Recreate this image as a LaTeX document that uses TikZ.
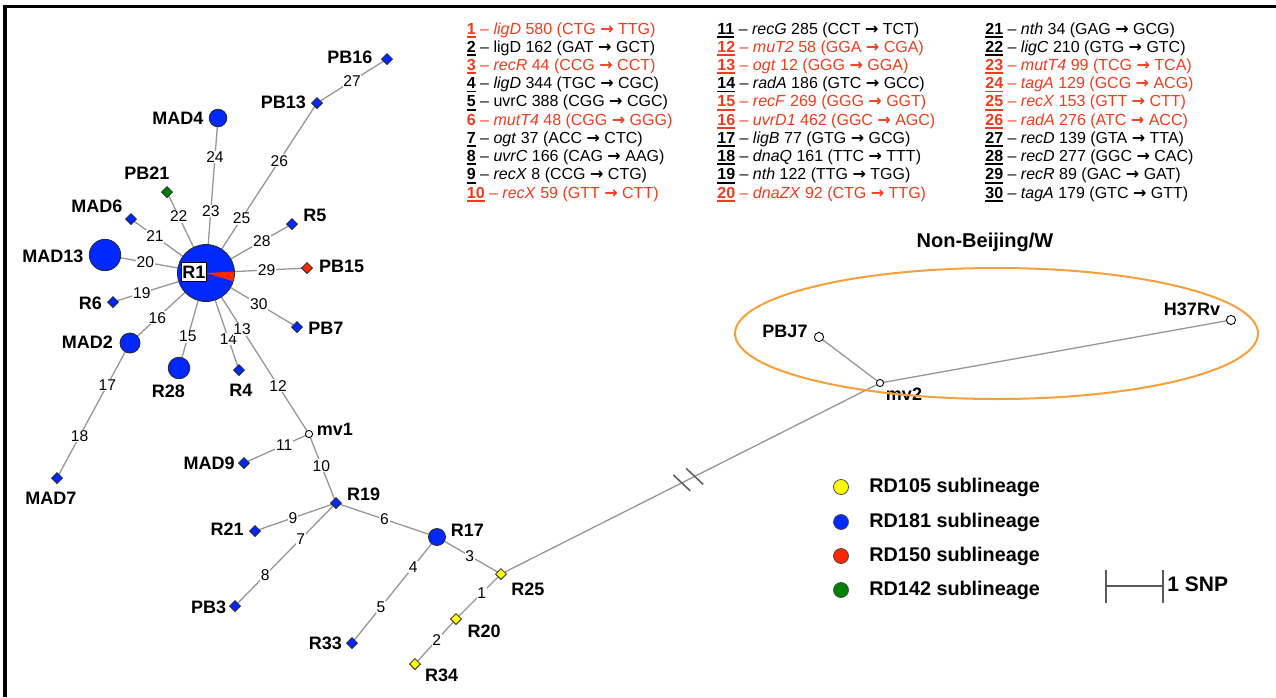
\documentclass[tikz,border=0pt]{standalone}
\usepackage{fontspec}
\setmainfont{Liberation Sans}
\newfontfamily\arrowfont{DejaVu Sans}
\usepackage{xcolor}
\usepackage{tikz}
\usetikzlibrary{shapes, calc}
\pgfdeclarelayer{background}
\pgfsetlayers{background,main}

\definecolor{hapblue}{RGB}{0,40,255}
\definecolor{hapyellow}{RGB}{255,255,0}
\definecolor{hapred}{RGB}{255,40,0}
\definecolor{hapgreen}{RGB}{0,128,0}
\definecolor{snpred}{RGB}{240,60,30}
\definecolor{linkgray}{RGB}{150,150,150}
\definecolor{lineageorange}{RGB}{245,160,60}

% underlined bold mutation number, and the codon arrow
\newsavebox{\mnobox}
\newcommand{\mno}[1]{\sbox{\mnobox}{\textbf{#1}}\rlap{\rule[-1.8pt]{\wd\mnobox}{0.9pt}}\usebox{\mnobox}}
\newcommand{\cto}{{\arrowfont\bfseries →}}

\begin{document}
\begin{tikzpicture}[
			x=0.5pt, y=-0.5pt,
			hap/.style={diamond, draw=black!85, line width=0.4pt, inner sep=0pt, minimum width=5.6pt, minimum height=5.6pt},
			hapb/.style={hap, fill=hapblue},
			hapy/.style={hap, fill=hapyellow},
			bighap/.style={circle, draw=black!85, line width=0.4pt, fill=hapblue, inner sep=0pt},
			mvec/.style={circle, draw=black, fill=white, line width=0.45pt, inner sep=0pt, minimum size=3.6pt},
			refhap/.style={mvec, minimum size=4.6pt},
			link/.style={draw=linkgray, line width=0.65pt},
			brk/.style={draw=black!65, line width=0.75pt},
			snp/.style={font=\fontsize{7.8}{9}\selectfont, fill=white, inner sep=0.4pt},
			tag/.style={font=\bfseries\fontsize{9}{10}\selectfont, inner sep=0pt},
			keydot/.style={circle, draw=black!70, line width=0.4pt, inner sep=0pt, minimum size=7.5pt},
			keytext/.style={anchor=west, inner sep=0pt, font=\bfseries\fontsize{9.9}{11}\selectfont},
			muttab/.style={anchor=north west, align=left, inner sep=0pt, font=\fontsize{8}{9.12}\selectfont}
			]
			\useasboundingbox (0,0) rectangle (1276,697);
			
			% --- Frame ---
			\draw[line width=1.65pt] (5,697) -- (5,6.5) -- (1276,6.5);
			
			% --- Mutation table ---
			\node[muttab] (tabA) at (466.5,22) {%
				\textcolor{snpred}{\mno{1} – \textit{ligD} 580 (CTG \cto{} TTG)}\\
				\mno{2} – ligD 162 (GAT \cto{} GCT)\\
				\textcolor{snpred}{\mno{3} – \textit{recR} 44 (CCG \cto{} CCT)}\\
				\mno{4} – \textit{ligD} 344 (TGC \cto{} CGC)\\
				\mno{5} – uvrC 388 (CGG \cto{} CGC)\\
				\textcolor{snpred}{\textbf{6} – \textit{mutT4} 48 (CGG \cto{} GGG)}\\
				\mno{7} – \textit{ogt} 37 (ACC \cto{} CTC)\\
				\mno{8} – \textit{uvrC} 166 (CAG \cto{} AAG)\\
				\mno{9} – \textit{recX} 8 (CCG \cto{} CTG)\\
				\textcolor{snpred}{\mno{10} – \textit{recX} 59 (GTT \cto{} CTT)}};
			\node[muttab] (tabB) at (717,22) {%
				\mno{11} – \textit{recG} 285 (CCT \cto{} TCT)\\
				\textcolor{snpred}{\mno{12} – \textit{muT2} 58 (GGA \cto{} CGA)}\\
				\textcolor{snpred}{\mno{13} – \textit{ogt} 12 (GGG \cto{} GGA)}\\
				\mno{14} – \textit{radA} 186 (GTC \cto{} GCC)\\
				\textcolor{snpred}{\mno{15} – \textit{recF} 269 (GGG \cto{} GGT)}\\
				\textcolor{snpred}{\mno{16} – \textit{uvrD1} 462 (GGC \cto{} AGC)}\\
				\mno{17} – \textit{ligB} 77 (GTG \cto{} GCG)\\
				\mno{18} – \textit{dnaQ} 161 (TTC \cto{} TTT)\\
				\mno{19} – \textit{nth} 122 (TTG \cto{} TGG)\\
				\textcolor{snpred}{\mno{20} – \textit{dnaZX} 92 (CTG \cto{} TTG)}};
			\node[muttab] (tabC) at (985,22) {%
				\mno{21} – \textit{nth} 34 (GAG \cto{} GCG)\\
				\mno{22} – \textit{ligC} 210 (GTG \cto{} GTC)\\
				\textcolor{snpred}{\mno{23} – \textit{mutT4} 99 (TCG \cto{} TCA)}\\
				\textcolor{snpred}{\mno{24} – \textit{tagA} 129 (GCG \cto{} ACG)}\\
				\textcolor{snpred}{\mno{25} – \textit{recX} 153 (GTT \cto{} CTT)}\\
				\textcolor{snpred}{\mno{26} – \textit{radA} 276 (ATC \cto{} ACC)}\\
				\mno{27} – \textit{recD} 139 (GTA \cto{} TTA)\\
				\mno{28} – \textit{recD} 277 (GGC \cto{} CAC)\\
				\mno{29} – \textit{recR} 89 (GAC \cto{} GAT)\\
				\mno{30} – \textit{tagA} 179 (GTC \cto{} GTT)};
			
			% --- Haplotypes ---
			\node[bighap, minimum size=28.5pt] (R1) at (206,273) {};
			\node[bighap, minimum size=15.7pt] (MAD13) at (105,255) {};
			\node[bighap, minimum size=8.8pt] (MAD4) at (218,118) {};
			\node[bighap, minimum size=10pt] (MAD2) at (130,343) {};
			\node[bighap, minimum size=10.8pt] (R28) at (179,368) {};
			\node[bighap, minimum size=8.5pt] (R17) at (437,537) {};
			\node[hapb] (MAD6) at (131,219) {};
			\node[hap, fill=hapgreen] (PB21) at (167,192) {};
			\node[hapb] (PB13) at (317,103) {};
			\node[hapb] (PB16) at (387,59) {};
			\node[hapb] (R5) at (292,224) {};
			\node[hap, fill=hapred] (PB15) at (307,268) {};
			\node[hapb] (PB7) at (297,327) {};
			\node[hapb] (R6) at (113,302) {};
			\node[hapb] (MAD7) at (57,478) {};
			\node[hapb] (R4) at (239,370) {};
			\node[mvec] (mv1) at (309,434) {};
			\node[hapb] (MAD9) at (244,463) {};
			\node[hapb] (R19) at (336,503) {};
			\node[hapb] (R21) at (255,531) {};
			\node[hapb] (PB3) at (235,606) {};
			\node[hapb] (R33) at (352,643) {};
			\node[hapy] (R25) at (501,574) {};
			\node[hapy] (R20) at (456,619) {};
			\node[hapy] (R34) at (415,664) {};
			\node[mvec] (mv2) at (880,383) {};
			\node[refhap] (PBJ7) at (819,337) {};
			\node[refhap] (H37Rv) at (1231,320) {};
			
			% RD150 share of R1
			\fill[hapred, shift={(R1.center)}] (0,0) -- (28.3,-1.5) -- (28.2,2) -- (27.9,4.9) -- (27.1,8.3) -- cycle;
			\node[draw=black, line width=0.5pt, fill=white, inner sep=0pt, minimum width=12.5pt, minimum height=9.5pt, font=\bfseries\fontsize{9}{10}\selectfont] (R1t) at (194,272) {R1};
			
			% --- Haplotype names ---
			\node[tag] (PB16t) at (350,57) {PB16};
			\node[tag] (PB13t) at (283.5,102) {PB13};
			\node[tag] (MAD4t) at (178,118.7) {MAD4};
			\node[tag] (PB21t) at (147,173.3) {PB21};
			\node[tag] (MAD6t) at (97,206.7) {MAD6};
			\node[tag] (MAD13t) at (53,256) {MAD13};
			\node[tag] (R5t) at (315,215) {R5};
			\node[tag] (PB15t) at (341.7,266.7) {PB15};
			\node[tag] (R6t) at (90.5,303.3) {R6};
			\node[tag] (PB7t) at (325.8,328.8) {PB7};
			\node[tag] (MAD2t) at (87.5,342.5) {MAD2};
			\node[tag] (R28t) at (168.3,390.8) {R28};
			\node[tag] (R4t) at (241,390.8) {R4};
			\node[tag] (MAD7t) at (51,497.8) {MAD7};
			\node[tag] (mv1t) at (335,429.8) {mv1};
			\node[tag] (MAD9t) at (209.2,462.8) {MAD9};
			\node[tag] (R19t) at (363.7,494.5) {R19};
			\node[tag] (R21t) at (227.2,529.5) {R21};
			\node[tag] (R17t) at (467.3,530) {R17};
			\node[tag] (PB3t) at (208.7,607.2) {PB3};
			\node[tag] (R33t) at (325.5,643.3) {R33};
			\node[tag] (R25t) at (528,589) {R25};
			\node[tag] (R20t) at (484.2,630.8) {R20};
			\node[tag] (R34t) at (441.7,675.8) {R34};
			\node[tag] (PBJ7t) at (785,331) {PBJ7};
			\node[tag] (mv2t) at (904,394) {mv2};
			\node[tag] (H37Rvt) at (1192,309) {H37Rv};
			
			% --- Non-Beijing group ---
			\node[ellipse, draw=lineageorange, line width=1pt, minimum width=261.5pt, minimum height=65.5pt] (nonbj) at (996.5,333.5) {};
			\node[tag, font=\bfseries\fontsize{10}{11}\selectfont] (nonbjt) at (985,242) {Non-Beijing/W};
			
			% --- Links with mutation numbers ---
			\begin{pgfonlayer}{background}
				\draw[link] (R1.center) -- (MAD13.center) node[snp, pos=0.60] {20};
				\draw[link] (R1.center) -- (MAD6.center) node[snp, pos=0.68] {21};
				\draw[link] (R1.center) -- (PB21.center) node[snp, pos=0.70] {22};
				\draw[link] (R1.center) -- (MAD4.center) node[snp, pos=0.40] {23} node[snp, pos=0.75] {24};
				\draw[link] (R1.center) -- (PB13.center) node[snp, pos=0.32] {25} node[snp, pos=0.66] {26};
				\draw[link] (PB13.center) -- (PB16.center) node[snp, pos=0.50] {27};
				\draw[link] (R1.center) -- (R5.center) node[snp, pos=0.65] {28};
				\draw[link] (R1.center) -- (PB15.center) node[snp, pos=0.60] {29};
				\draw[link] (R1.center) -- (PB7.center) node[snp, pos=0.58] {30};
				\draw[link] (R1.center) -- (R6.center) node[snp, pos=0.69] {19};
				\draw[link] (R1.center) -- (MAD2.center) node[snp, pos=0.64] {16};
				\draw[link] (MAD2.center) -- (MAD7.center) node[snp, pos=0.31] {17} node[snp, pos=0.69] {18};
				\draw[link] (R1.center) -- (R28.center) node[snp, pos=0.67] {15};
				\draw[link] (R1.center) -- (R4.center) node[snp, pos=0.68] {14};
				\draw[link] (R1.center) -- (mv1.center) node[snp, pos=0.35] {13} node[snp, pos=0.70] {12};
				\draw[link] (mv1.center) -- (MAD9.center) node[snp, pos=0.38] {11};
				\draw[link] (mv1.center) -- (R19.center) node[snp, pos=0.46] {10};
				\draw[link] (R19.center) -- (R21.center) node[snp, pos=0.53] {9};
				\draw[link] (R19.center) -- (PB3.center) node[snp, pos=0.35] {7} node[snp, pos=0.70] {8};
				\draw[link] (R19.center) -- (R17.center) node[snp, pos=0.48] {6};
				\draw[link] (R17.center) -- (R33.center) node[snp, pos=0.28] {4} node[snp, pos=0.66] {5};
				\draw[link] (R17.center) -- (R25.center) node[snp, pos=0.51] {3};
				\draw[link] (R25.center) -- (R20.center) node[snp, pos=0.43] {1};
				\draw[link] (R20.center) -- (R34.center) node[snp, pos=0.47] {2};
				\draw[link] (R25.center) -- (mv2.center) coordinate[pos=0.477] (brkA) coordinate[pos=0.511] (brkB);
				\draw[link] (mv2.center) -- (PBJ7.center);
				\draw[link] (mv2.center) -- (H37Rv.center);
			\end{pgfonlayer}
			
			% break in the long branch
			\draw[brk] ($(brkA)+(-8.5,-8)$) -- ($(brkA)+(8.5,8)$);
			\draw[brk] ($(brkB)+(-8.5,-8)$) -- ($(brkB)+(8.5,8)$);
			
			% --- Legend ---
			\node[keydot, fill=hapyellow] (keyY) at (841,487) {};
			\node[keydot, fill=hapblue] (keyB) at (841,522) {};
			\node[keydot, fill=hapred] (keyR) at (841,556) {};
			\node[keydot, fill=hapgreen] (keyG) at (841,590) {};
			\node[keytext] (keyYt) at (869,487) {RD105 sublineage};
			\node[keytext] (keyBt) at (869,522) {RD181 sublineage};
			\node[keytext] (keyRt) at (869,556) {RD150 sublineage};
			\node[keytext] (keyGt) at (869,590) {RD142 sublineage};
			
			% --- Scale bar ---
			\coordinate (barL) at (1106,586);
			\coordinate (barR) at (1163,586);
			\draw[brk] (barL) -- (barR);
			\draw[brk] ($(barL)+(0,-16)$) -- ($(barL)+(0,17)$);
			\draw[brk] ($(barR)+(0,-16)$) -- ($(barR)+(0,17)$);
			\node[keytext, font=\bfseries\fontsize{10.5}{12}\selectfont] (bart) at (1167,584) {1 SNP};
			
\end{tikzpicture}
\end{document}
